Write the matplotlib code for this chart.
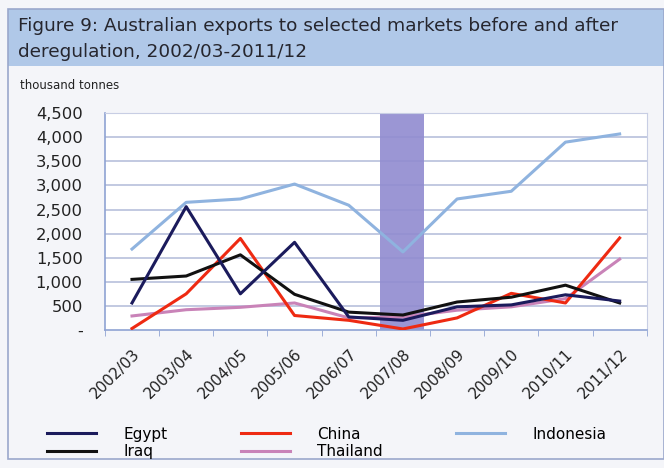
import matplotlib.pyplot as plt
from matplotlib.patches import Rectangle
import numpy as np

years = ['2002/03', '2003/04', '2004/05', '2005/06', '2006/07',
         '2007/08', '2008/09', '2009/10', '2010/11', '2011/12']
egypt = [560, 2560, 750, 1820, 270, 200, 480, 520, 730, 600]
china = [30, 750, 1900, 300, 200, 20, 250, 760, 560, 1910]
indonesia = [1680, 2650, 2720, 3030, 2590, 1620, 2720, 2880, 3900, 4070]
iraq = [1050, 1120, 1560, 740, 370, 310, 580, 680, 930, 560]
thailand = [290, 420, 470, 560, 250, 270, 410, 480, 650, 1470]
yticks = [0, 500, 1000, 1500, 2000, 2500, 3000, 3500, 4000, 4500]
ytick_labels = ['-', '500', '1,000', '1,500', '2,000', '2,500', '3,000', '3,500', '4,000', '4,500']
dereg_year = '2007/08'

plt.rcParams['font.family'] = ['DejaVu Sans']

fig = plt.figure(figsize=(6.64, 4.68), dpi=100)
fig.patch.set_facecolor('#f4f5f9')

# title banner and frame
fig.patches.append(Rectangle((0.012, 0.858), 0.988, 0.122, transform=fig.transFigure,
                             facecolor='#b0c8e8', edgecolor='none'))
fig.patches.append(Rectangle((0.012, 0.02), 0.988, 0.96, transform=fig.transFigure,
                             facecolor='none', edgecolor='#9aa8cc', lw=1.2))
fig.text(0.027, 0.945, 'Figure 9: Australian exports to selected markets before and after',
         fontsize=13.3, color='#26262e', va='center')
fig.text(0.027, 0.888, 'deregulation, 2002/03-2011/12', fontsize=13.3, color='#26262e',
         va='center')
fig.text(0.03, 0.818, 'thousand tonnes', fontsize=8.5, color='#222222', va='center')

ax = fig.add_axes([0.158, 0.295, 0.816, 0.463])
ax.set_facecolor('white')
x = np.arange(len(years))

i = years.index(dereg_year)
ax.axvspan(i - 0.42, i + 0.38, color='#908bd0', alpha=0.9, zorder=1, lw=0)

for val in yticks[1:]:
    ax.axhline(val, color='#b8c0dc', lw=1.2, zorder=0)

lw = 2.2
ax.plot(x, indonesia, color='#8fb3df', lw=lw, zorder=3, label='Indonesia')
ax.plot(x, thailand, color='#c983b8', lw=lw, zorder=3, label='Thailand')
ax.plot(x, china, color='#ee2a12', lw=lw, zorder=3, label='China')
ax.plot(x, iraq, color='#111111', lw=lw, zorder=3, label='Iraq')
ax.plot(x, egypt, color='#1b1b5c', lw=lw, zorder=3, label='Egypt')

ax.set_xlim(-0.5, len(years) - 0.5)
ax.set_ylim(0, 4500)
ax.set_yticks(yticks)
ax.set_yticklabels(ytick_labels, fontsize=11.8, color='#222222')
ax.set_xticks(x)
ax.set_xticklabels(years, rotation=45, ha='right', rotation_mode='anchor', fontsize=11,
                   color='#222222')
ax.tick_params(axis='x', length=0, pad=12)
ax.tick_params(axis='y', length=0, pad=16)
ax.set_xticks(np.arange(-0.5, len(years)), minor=True)
ax.tick_params(axis='x', which='minor', length=4, color='#8fa3d3', direction='out')

for s in ['top', 'right']:
    ax.spines[s].set_color('#c8cee4')
for s in ['left', 'bottom']:
    ax.spines[s].set_color('#8fa3d3')
    ax.spines[s].set_linewidth(1.2)

h = {l.get_label(): l for l in ax.get_lines()}
order = ['Egypt', 'Iraq', 'China', 'Thailand', 'Indonesia']
fig.legend([h[k] for k in order], order, loc='lower left', bbox_to_anchor=(0.05, -0.01),
           ncol=3, frameon=False, fontsize=11, handlelength=3.2, handletextpad=1.8,
           columnspacing=4.8, labelspacing=0.15)

fig.savefig('out.png', dpi=100, facecolor=fig.get_facecolor())
